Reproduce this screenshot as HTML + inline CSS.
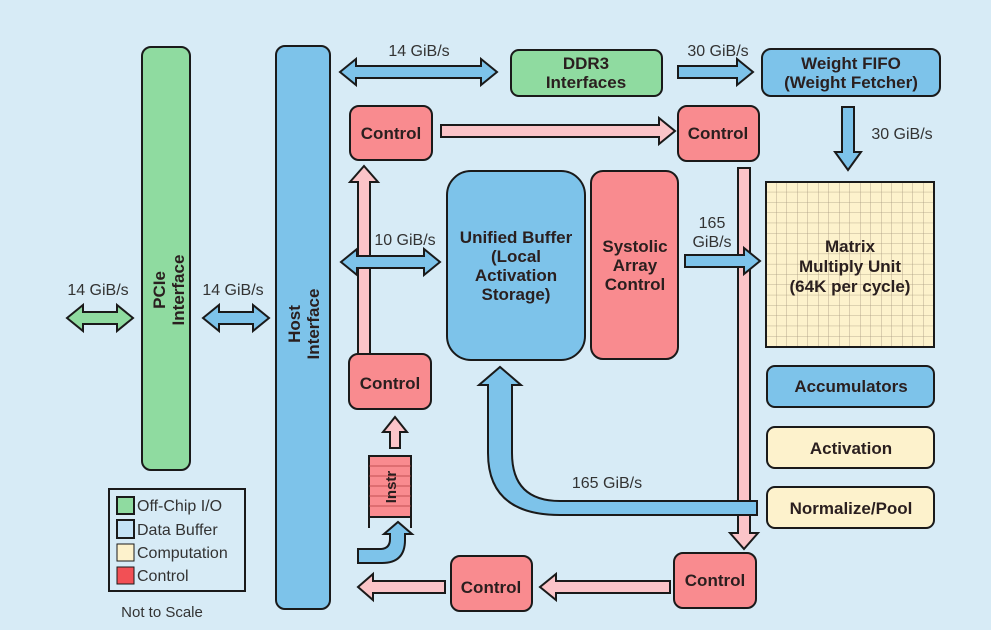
<!DOCTYPE html>
<html><head><style>
html,body{margin:0;padding:0;background:#d7ebf6;}
svg{display:block}
.b{font-family:"Liberation Sans",sans-serif;font-weight:bold;fill:#2a1f1f;font-size:17px;text-anchor:middle}
.n{font-family:"Liberation Sans",sans-serif;fill:#333;font-size:16px;text-anchor:middle}
</style></head><body>
<svg width="991" height="630" viewBox="0 0 991 630" xmlns="http://www.w3.org/2000/svg">
<defs>
<pattern id="g" width="10.5" height="10.3" patternUnits="userSpaceOnUse" x="766" y="182">
<path d="M10.5 0V10.3M0 10.3H10.5" stroke="#a89a80" stroke-width="0.8" fill="none"/>
</pattern>
</defs>
<rect width="991" height="630" fill="#d7ebf6"/>
<g stroke="#1a1a1a" stroke-width="2">
<rect x="142" y="47" width="48" height="423" rx="9" fill="#8fdba0"/>
<rect x="276" y="46" width="54" height="563" rx="9" fill="#7dc3ea"/>
<polygon points="67,318 83,305 83,312 117,312 117,305 133,318 117,331 117,324 83,324 83,331" fill="#8fdba0"/>
<polygon points="203,318 219,305 219,312 253,312 253,305 269,318 253,331 253,324 219,324 219,331" fill="#7dc3ea"/>
<polygon points="340,72 356,59 356,66 481,66 481,59 497,72 481,85 481,78 356,78 356,85" fill="#7dc3ea"/>
<rect x="511" y="50" width="151" height="46" rx="8" fill="#8fdba0"/>
<polygon points="678,66 737,66 737,59 753,72 737,85 737,78 678,78" fill="#7dc3ea"/>
<rect x="762" y="49" width="178" height="47" rx="9" fill="#7dc3ea"/>
<polygon points="842,107 854,107 854,152 861,152 848,170 835,152 842,152" fill="#7dc3ea"/>
<rect x="350" y="106" width="82" height="54" rx="9" fill="#f98b8f"/>
<polygon points="441,125 659,125 659,118 675,131 659,144 659,137 441,137" fill="#fbc4c8"/>
<rect x="678" y="106" width="81" height="55" rx="9" fill="#f98b8f"/>
<polygon points="738,168 750,168 750,533 758,533 744,549 730,533 738,533" fill="#fbc4c8"/>
<path d="M757,501 L560,501 Q512,501 512,453 L512,385 L521,385 L500,367 L479,385 L488,385 L488,453 Q488,515 560,515 L757,515 Z" fill="#7dc3ea"/>
<rect x="674" y="553" width="82" height="55" rx="9" fill="#f98b8f"/>
<rect x="447" y="171" width="138" height="189" rx="24" fill="#7dc3ea"/>
<rect x="591" y="171" width="87" height="188" rx="12" fill="#f98b8f"/>
<polygon points="685,255 744,255 744,248 760,261 744,274 744,267 685,267" fill="#7dc3ea"/>
<rect x="766" y="182" width="168" height="165" fill="#fdf2cc"/>
<rect x="766" y="182" width="168" height="165" fill="url(#g)" stroke="none"/>
<rect x="766" y="182" width="168" height="165" fill="none"/>
<rect x="767" y="366" width="167" height="41" rx="8" fill="#7dc3ea"/>
<rect x="767" y="427" width="167" height="41" rx="8" fill="#fdf2cc"/>
<rect x="767" y="487" width="167" height="41" rx="8" fill="#fdf2cc"/>
<polygon points="358,355 370,355 370,182 378,182 364,166 350,182 358,182" fill="#fbc4c8"/>
<polygon points="341,262 357,249 357,256 424,256 424,249 440,262 424,275 424,268 357,268 357,275" fill="#7dc3ea"/>
<rect x="349" y="354" width="82" height="55" rx="9" fill="#f98b8f"/>
<polygon points="390,448 400,448 400,432 407,432 395,417 383,432 390,432" fill="#fbc4c8"/>
<rect x="369" y="456" width="42" height="61" fill="#f98b8f"/>
<path d="M369,517 V528 M411,517 V528" fill="none"/>
<path d="M358,549 L380,549 Q390,549 390,539 L390,534 L384,534 L398,522 L412,534 L405,534 L405,540 Q405,563 382,563 L358,563 Z" fill="#7dc3ea"/>
<rect x="451" y="556" width="81" height="55" rx="9" fill="#f98b8f"/>
<polygon points="670,581 556,581 556,574 540,587 556,600 556,593 670,593" fill="#fbc4c8"/>
<polygon points="445,581 373,581 373,574 358,587 373,600 373,593 445,593" fill="#fbc4c8"/>
<rect x="109" y="489" width="136" height="102" fill="none"/>
<rect x="117" y="497" width="17" height="17" fill="#8fdba0"/>
<rect x="117" y="520" width="17" height="18" fill="#c5e3f6"/>
<rect x="117" y="544" width="17" height="17" fill="#fdf2cc" stroke-width="1"/>
<rect x="117" y="567" width="17" height="17" fill="#f25055" stroke-width="1"/>
</g>
<g stroke="#b04040" stroke-width="0.8">
<path d="M369,466H411M369,476H411M369,486H411M369,496H411M369,506H411"/>
</g>
<text class="b" transform="translate(165,290) rotate(-90)"><tspan x="0" dy="0">PCIe</tspan><tspan x="0" dy="19">Interface</tspan></text>
<text class="b" transform="translate(300,324) rotate(-90)"><tspan x="0" dy="0">Host</tspan><tspan x="0" dy="19">Interface</tspan></text>
<text class="n" x="98" y="295">14 GiB/s</text>
<text class="n" x="233" y="295">14 GiB/s</text>
<text class="n" x="419" y="56">14 GiB/s</text>
<text class="n" x="718" y="56">30 GiB/s</text>
<text class="n" x="902" y="139">30 GiB/s</text>
<text class="n" x="405" y="245">10 GiB/s</text>
<text class="n" x="712" y="228">165</text>
<text class="n" x="712" y="247">GiB/s</text>
<text class="n" x="607" y="488">165 GiB/s</text>
<text class="b" x="586" y="69">DDR3</text>
<text class="b" x="586" y="88">Interfaces</text>
<text class="b" x="851" y="69">Weight FIFO</text>
<text class="b" x="851" y="88">(Weight Fetcher)</text>
<text class="b" x="391" y="139">Control</text>
<text class="b" x="718" y="139">Control</text>
<text class="b" x="390" y="389">Control</text>
<text class="b" x="491" y="593">Control</text>
<text class="b" x="715" y="586">Control</text>
<text class="b" x="516" y="243">Unified Buffer</text>
<text class="b" x="516" y="262">(Local</text>
<text class="b" x="516" y="281">Activation</text>
<text class="b" x="516" y="300">Storage)</text>
<text class="b" x="635" y="252">Systolic</text>
<text class="b" x="635" y="271">Array</text>
<text class="b" x="635" y="290">Control</text>
<text class="b" x="850" y="252">Matrix</text>
<text class="b" x="850" y="272">Multiply Unit</text>
<text class="b" x="850" y="292">(64K per cycle)</text>
<text class="b" x="851" y="392">Accumulators</text>
<text class="b" x="851" y="454">Activation</text>
<text class="b" x="851" y="514">Normalize/Pool</text>
<text class="b" transform="translate(396,487) rotate(-90)" style="font-size:15px">Instr</text>
<text x="137" y="511" class="n" style="text-anchor:start;font-size:16px">Off-Chip I/O</text>
<text x="137" y="535" class="n" style="text-anchor:start;font-size:16px">Data Buffer</text>
<text x="137" y="558" class="n" style="text-anchor:start;font-size:16px">Computation</text>
<text x="137" y="581" class="n" style="text-anchor:start;font-size:16px">Control</text>
<text class="n" x="162" y="617" style="font-size:15px">Not to Scale</text>
</svg>
</body></html>
